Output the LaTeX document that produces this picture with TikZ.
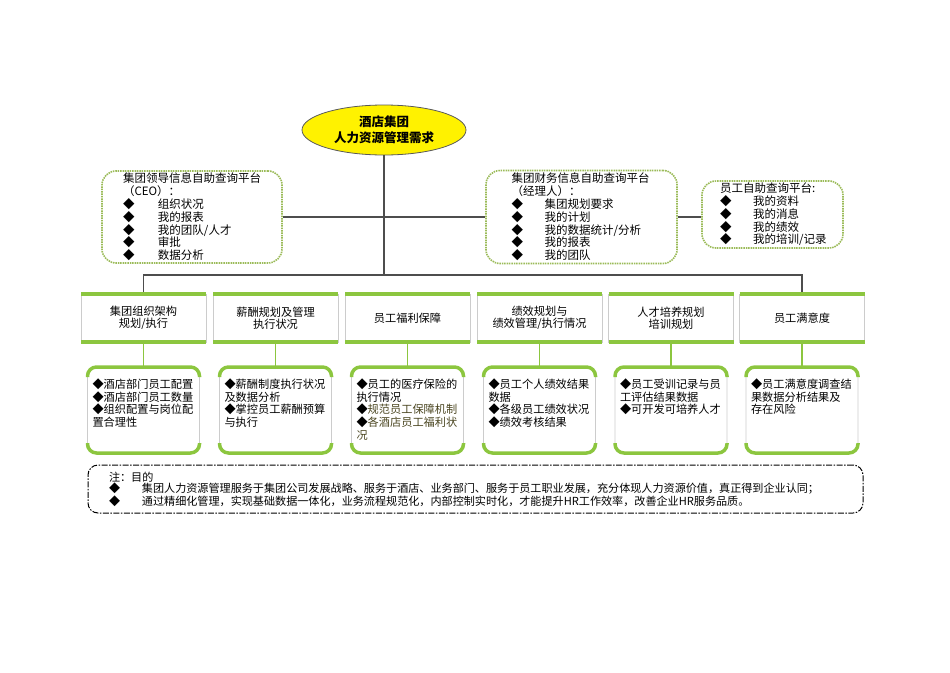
\documentclass[tikz,border=0pt]{standalone}
\usepackage{fontspec}
\setmainfont{Noto Sans CJK SC}
\usetikzlibrary{positioning,shapes.geometric}

\definecolor{hrgreen}{HTML}{8CC63F}
\definecolor{dotgreen}{HTML}{9BBB59}
\definecolor{headyellow}{HTML}{FFF200}
\definecolor{linegray}{HTML}{4D4D4D}
\definecolor{olivetext}{HTML}{4A4520}

\newcommand{\dia}[1]{\makebox[#1][l]{◆}}
\newcommand{\lowtext}[1]{\parbox[c][62pt][t]{102pt}{#1}}

\begin{document}
\begin{tikzpicture}[x=1pt,y=-1pt,
    head node/.style={ellipse,draw=black!65,fill=headyellow,line width=0.8pt,minimum width=164pt,
      minimum height=50pt,inner sep=0pt,align=center,font=\fontsize{12.5}{16}\selectfont\bfseries},
    dot node/.style={draw=dotgreen,line width=1.6pt,dash pattern=on 1.5pt off 0.9pt,rounded corners=14pt,
      align=left,inner ysep=1pt,font=\fontsize{11.5}{12.8}\selectfont},
    cat node/.style={draw=black!20,line width=0.6pt,minimum width=125pt,minimum height=48pt,inner sep=0pt,
      outer sep=0pt,align=center,font=\fontsize{11.2}{12}\selectfont},
    low node/.style={draw=black!20,line width=0.6pt,rounded corners=9pt,inner xsep=5pt,inner ysep=12pt,
      outer sep=0pt,font=\fontsize{11.2}{12.6}\selectfont},
    note node/.style={draw=black,line width=1pt,dash pattern=on 6pt off 1.5pt on 1.5pt off 1.5pt,
      rounded corners=10pt,align=left,minimum height=48pt,inner xsep=21pt,font=\fontsize{11.1}{10.2}\selectfont},
    link/.style={draw=linegray,line width=1.2pt},
    green link/.style={draw=hrgreen,line width=1.5pt},
    green bar/.style={draw=hrgreen,line width=3.5pt}]

  \useasboundingbox (0,0) rectangle (950,672);

  % top of the tree
  \node[head node] (head) at (384,130) {酒店集团\\人力资源管理需求};
  \coordinate (bus) at (384,275);

  % query platforms
  \node[dot node,text width=138pt,inner xsep=21pt,minimum height=92pt] (ceo) at (192,217)
    {集团领导信息自助查询平台\\（CEO）：\\\dia{35pt}组织状况\\\dia{35pt}我的报表\\
     \dia{35pt}我的团队/人才\\\dia{35pt}审批\\\dia{35pt}数据分析};
  \node[dot node,text width=140pt,inner xsep=25.5pt,minimum height=93pt] (fin) at (581.5,217)
    {集团财务信息自助查询平台\\（经理人）：\\\dia{33pt}集团规划要求\\\dia{33pt}我的计划\\
     \dia{33pt}我的数据统计/分析\\\dia{33pt}我的报表\\\dia{33pt}我的团队};
  \node[dot node,text width=105pt,inner xsep=18pt,minimum height=67pt] (emp) at (772.5,214.5)
    {员工自助查询平台:\\\dia{33pt}我的资料\\\dia{33pt}我的消息\\\dia{33pt}我的绩效\\
     \dia{33pt}我的培训/记录};

  % fields
  \node[cat node] (c1) at (143.5,318) {集团组织架构\\规划/执行};
  \node[cat node] (c2) at (275.5,318) {薪酬规划及管理\\执行状况};
  \node[cat node] (c3) at (407.5,318) {员工福利保障};
  \node[cat node] (c4) at (539.5,318) {绩效规划与\\绩效管理/执行情况};
  \node[cat node] (c5) at (671,318) {人才培养规划\\培训规划};
  \node[cat node] (c6) at (802,318) {员工满意度};

  % details
  \node[low node] (l1) [below=25pt of c1]
    {\lowtext{◆酒店部门员工配置\\◆酒店部门员工数量\\◆组织配置与岗位配\\置合理性}};
  \node[low node] (l2) [below=25pt of c2]
    {\lowtext{◆薪酬制度执行状况\\及数据分析\\◆掌控员工薪酬预算\\与执行}};
  \node[low node] (l3) [below=25pt of c3]
    {\lowtext{◆员工的医疗保险的\\执行情况\\◆\textcolor{olivetext}{规范员工保障机制}\\
     ◆\textcolor{olivetext}{各酒店员工福利状}\\\textcolor{olivetext}{况}}};
  \node[low node] (l4) [below=25pt of c4]
    {\lowtext{◆员工个人绩效结果\\数据\\◆各级员工绩效状况\\◆绩效考核结果}};
  \node[low node] (l5) [below=25pt of c5]
    {\lowtext{◆员工受训记录与员\\工评估结果数据\\◆可开发可培养人才}};
  \node[low node] (l6) [below=25pt of c6]
    {\lowtext{◆员工满意度调查结\\果数据分析结果及\\存在风险}};

  % note
  \node[note node,text width=733pt] (note) at (475.5,489)
    {注：目的\\
     \dia{33pt}集团人力资源管理服务于集团公司发展战略、服务于酒店、业务部门、服务于员工职业发展，充分体现人力资源价值，真正得到企业认同；\\
     \dia{33pt}通过精细化管理，实现基础数据一体化，业务流程规范化，内部控制实时化，才能提升HR工作效率，改善企业HR服务品质。};

  % connectors
  \draw[link] (head) -- (bus);
  \draw[link] (c1.north) -- (c1.north |- bus) -- (c6.north |- bus) -- (c6.north);
  \draw[link] (ceo) -- (fin);
  \draw[link] (fin.east) -- (fin.east -| emp.west);
  \foreach \i in {1,...,6} {
    \draw[green link] (c\i) -- (l\i);
    \draw[green bar] (c\i.north west) -- (c\i.north east);
    \draw[green bar] (c\i.south west) -- (c\i.south east);
    \draw[green bar,rounded corners=9pt] ([yshift=-10pt]l\i.north west) |- (l\i.north) -| ([yshift=-10pt]l\i.north east);
    \draw[green bar,rounded corners=9pt] ([yshift=10pt]l\i.south west) |- (l\i.south) -| ([yshift=10pt]l\i.south east);
  }
\end{tikzpicture}
\end{document}
